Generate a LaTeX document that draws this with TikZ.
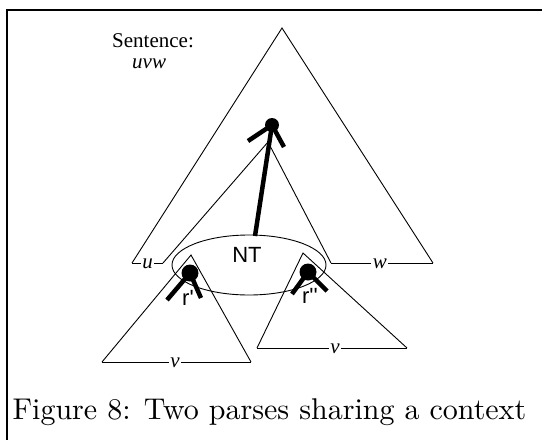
\documentclass[tikz,border=0pt]{standalone}
\usepackage{fontspec}
\usetikzlibrary{shapes.geometric}
\newfontfamily\hsf{Liberation Sans}
\newfontfamily\tms{Liberation Serif}
\begin{document}
\begin{tikzpicture}[x=1pt,y=-1pt,
  thinline/.style={line width=0.9pt},
  legline/.style={line width=4.5pt},
  baselbl/.style={inner sep=1.5pt, fill=white, font=\tms\itshape\fontsize{21}{21}\selectfont},
  sanslbl/.style={inner sep=0pt, font=\hsf\fontsize{22}{22}\selectfont},
  dotstyle/.style={fill=black}]
\useasboundingbox (0,0) rectangle (542,440);
% frame
\coordinate (FB) at (7,440);
\coordinate (FC) at (7,10);
\coordinate (FR) at (542,10);
\draw[line width=2.8pt] (FB) -- (FC) -- (FR);
% outer triangle
\coordinate (OA) at (282,28);
\coordinate (OL) at (132,263);
\coordinate (OR) at (433,263);
% inner (context hole)
\coordinate (IA) at (268,142);
\coordinate (IL) at (163,263);
\coordinate (IR) at (331,263);
\draw[thinline] (OL) -- (OA) -- (OR);
\draw[thinline] (IL) -- (IA) -- (IR);
\draw[thinline] (OL) -- node[baselbl, yshift=-1pt] (u) {u} (IL);
\draw[thinline] (IR) -- node[baselbl, pos=0.48, yshift=-1pt] (w) {w} (OR);
% left subtree
\coordinate (LA) at (191,255);
\coordinate (LL) at (102,362);
\coordinate (LR) at (251,362);
\draw[thinline] (LL) -- (LA) -- (LR);
\draw[thinline] (LL) -- node[baselbl, pos=0.49, yshift=-1pt] (v1) {v} (LR);
% right subtree
\coordinate (RA) at (303,253);
\coordinate (RL) at (257,348);
\coordinate (RR) at (407,348);
\draw[thinline] (RL) -- (RA) -- (RR);
\draw[thinline] (RL) -- node[baselbl, pos=0.52, yshift=-1pt] (v2) {v} (RR);
% ellipse
\node[ellipse, draw, thinline, minimum width=154pt, minimum height=60pt, inner sep=0pt] (E) at (249,265) {};
\node[sanslbl] (NT) at (247,255) {NT};
% top dot
\coordinate (TD) at (272,125);
\coordinate (TDl) at (248,141);
\coordinate (TDr) at (284,147);
\coordinate (ES) at (255,236);
\draw[legline] (TD) -- (TDl);
\draw[legline] (TD) -- (TDr);
\draw[legline] (TD) -- (ES);
\fill[dotstyle] (TD) circle[radius=7pt];
% left dot
\coordinate (LD) at (190,273);
\coordinate (LDl) at (167,300);
\coordinate (LDr) at (201,298);
\draw[legline] (LD) -- (LDl);
\draw[legline] (LD) -- (LDr);
\fill[dotstyle] (LD) circle[radius=8.5pt];
\node[sanslbl] (r1) at (188,298) {r'};
% right dot
\coordinate (RD) at (308,272);
\coordinate (RDl) at (292,294);
\coordinate (RDr) at (327,291);
\draw[legline] (RD) -- (RDl);
\draw[legline] (RD) -- (RDr);
\fill[dotstyle] (RD) circle[radius=8.5pt];
\node[sanslbl] (r2) at (310,296) {r''};
% sentence
\node[anchor=base west, inner sep=0pt, font=\tms\fontsize{21}{21}\selectfont] (sent) at (112,47) {Sentence:};
\node[anchor=base west, inner sep=0pt, font=\tms\itshape\fontsize{21}{21}\selectfont] (uvw) at (132,68) {uvw};
% caption
\node[anchor=base west, inner sep=0pt, scale=3] (cap) at (12,419) {\fontsize{10}{12}\selectfont Figure 8: Two parses sharing a context};
\end{tikzpicture}
\end{document}
